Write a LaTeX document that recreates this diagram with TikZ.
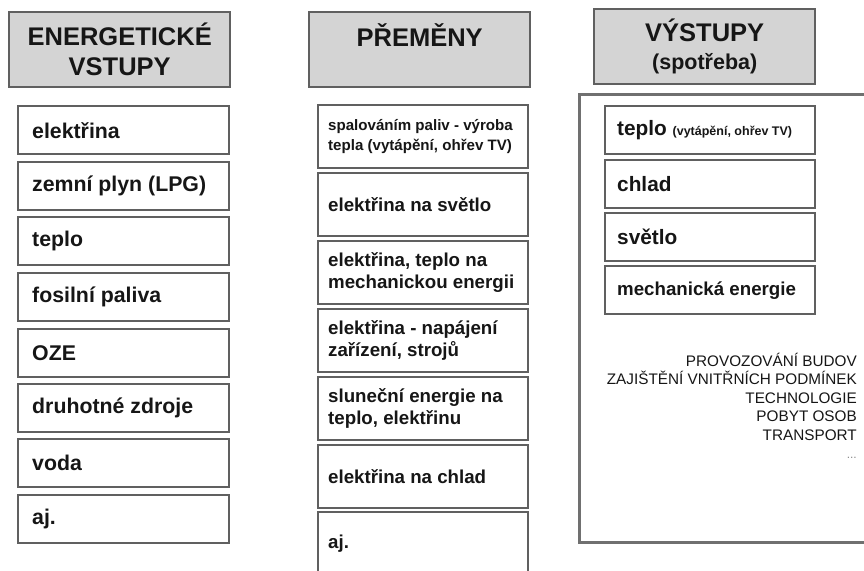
\documentclass[tikz,border=0pt]{standalone}
\usepackage{fontspec}
\usepackage{xcolor}
\setmainfont{Liberation Sans}

\begin{document}
\begin{tikzpicture}[x=1pt, y=-1pt,
		head/.style={draw=BOX_GRAY, line width=2.4pt, fill=HEAD_FILL, text=ALMOST_BLACK, anchor=north west,
			minimum width=221pt, minimum height=75pt, align=center, inner sep=0pt,
			font=\fontsize{25.5}{30}\selectfont\bfseries},
		item/.style={draw=BOX_GRAY, line width=2.4pt, fill=white, text=ALMOST_BLACK, anchor=north west,
			align=flush left, inner ysep=0pt, font=\fontsize{18.7}{22}\selectfont\bfseries},
		vstup/.style={item, minimum height=48pt, text width=183pt, inner xsep=14pt,
			font=\fontsize{21.3}{26}\selectfont\bfseries},
		premena/.style={item, minimum height=63pt, text width=190pt, inner xsep=10pt},
		vystup/.style={item, minimum height=48pt, text width=186pt, inner xsep=12pt,
			font=\fontsize{20.8}{25}\selectfont\bfseries}]
				\definecolor{BOX_GRAY}{RGB}{96, 96, 96}
				\definecolor{FRAME_GRAY}{RGB}{112, 112, 112}
				\definecolor{HEAD_FILL}{RGB}{212, 212, 212}
				\definecolor{ALMOST_BLACK}{RGB}{22, 22, 22}
				\definecolor{DOTS_GRAY}{RGB}{140, 140, 140}
				\useasboundingbox[fill=white] (0,0) rectangle (864,570);

				% hlavicky
				\node[head] (hlavaVstupy) at (8,11) {ENERGETICKÉ\\VSTUPY};
				\node[head] (hlavaPremeny) at (308,11) {PŘEMĚNY\\\mbox{}};
				\node[head] (hlavaVystupy) at (593,8) {VÝSTUPY\\[-2pt]{\fontsize{21.5}{26}\selectfont (spotřeba)}};

				% energeticke vstupy
				\node[vstup] (vstup1) at (17,105) {elektřina};
				\node[vstup] (vstup2) at (17,161) {zemní plyn (LPG)};
				\node[vstup] (vstup3) at (17,216) {teplo};
				\node[vstup] (vstup4) at (17,272) {fosilní paliva};
				\node[vstup] (vstup5) at (17,328) {OZE};
				\node[vstup] (vstup6) at (17,383) {druhotné zdroje};
				\node[vstup] (vstup7) at (17,438) {voda};
				\node[vstup] (vstup8) at (17,494) {aj.};

				% premeny
				\node[premena, font=\fontsize{15.1}{20}\selectfont\bfseries] (premena1) at (317,104)
					{spalováním paliv - výroba\\tepla (vytápění, ohřev TV)};
				\node[premena] (premena2) at (317,172) {elektřina na světlo};
				\node[premena] (premena3) at (317,240) {elektřina, teplo na\\mechanickou energii};
				\node[premena] (premena4) at (317,308) {elektřina - napájení\\zařízení, strojů};
				\node[premena] (premena5) at (317,376) {sluneční energie na\\teplo, elektřinu};
				\node[premena] (premena6) at (317,444) {elektřina na chlad};
				\node[premena] (premena7) at (317,511) {aj.};

				% vystupy
				\draw[line width=3pt, color=FRAME_GRAY] (880,94) -- (579,94) -- (579,542) -- (880,542);
				\node[vystup] (vystup1) at (604,105)
					{teplo {\fontsize{12.5}{15}\selectfont (vytápění, ohřev TV)}};
				\node[vystup] (vystup2) at (604,159) {chlad};
				\node[vystup] (vystup3) at (604,212) {světlo};
				\node[vystup, font=\fontsize{18.7}{22}\selectfont\bfseries] (vystup4) at (604,265) {mechanická energie};

				\node[anchor=north east, align=right, inner sep=0pt, text=ALMOST_BLACK,
					font=\fontsize{15.3}{18.5}\selectfont] (oblasti) at (857,353)
					{PROVOZOVÁNÍ BUDOV\\ZAJIŠTĚNÍ VNITŘNÍCH PODMÍNEK\\TECHNOLOGIE\\POBYT OSOB\\TRANSPORT\\
					{\fontsize{12}{18.5}\selectfont\color{DOTS_GRAY}...}};

			\end{tikzpicture}
\end{document}
